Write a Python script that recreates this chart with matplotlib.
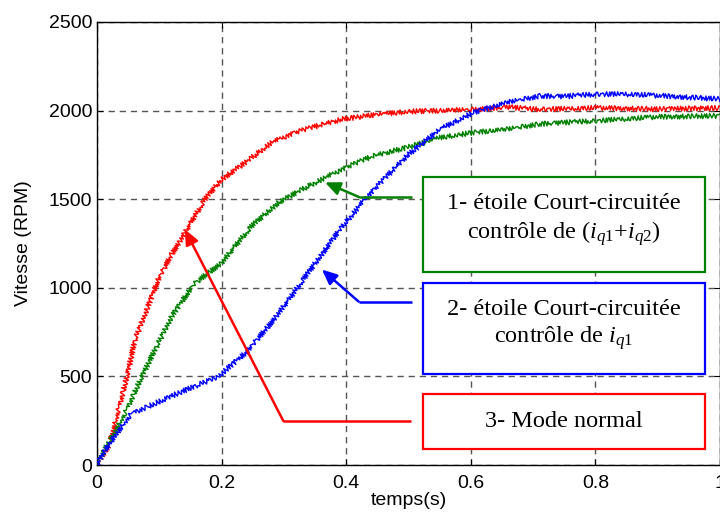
import matplotlib
matplotlib.use("Agg")
import matplotlib.pyplot as plt
from matplotlib.patches import Rectangle

# ---- data ----
t_red = [0, 0.008, 0.018, 0.029, 0.048, 0.061, 0.082, 0.098, 0.12, 0.141, 0.173, 0.2, 0.238,
         0.28, 0.318, 0.36, 0.393, 0.45, 0.5, 0.55, 0.6, 0.66, 0.7, 0.75, 0.8, 0.85, 0.9, 0.95, 1.0]
v_red = [0, 50, 104, 236, 500, 707, 895, 1046, 1190, 1310, 1499, 1612, 1706,
         1820, 1876, 1920, 1951, 1978, 1995, 2000, 2005, 2020, 2008, 2010, 2016, 2012, 2008, 2012, 2015]

t_green = [0, 0.012, 0.024, 0.045, 0.072, 0.093, 0.12, 0.155, 0.2, 0.248, 0.291, 0.339, 0.393,
           0.443, 0.497, 0.551, 0.604, 0.658, 0.711, 0.8, 0.9, 1.0]
v_green = [0, 90, 160, 292, 500, 650, 839, 1020, 1141, 1348, 1480, 1574, 1668,
           1744, 1791, 1848, 1876, 1895, 1925, 1942, 1965, 1970]

t_blue = [0, 0.01, 0.024, 0.04, 0.056, 0.082, 0.13, 0.195, 0.238, 0.275, 0.312, 0.323, 0.361,
          0.39, 0.43, 0.497, 0.551, 0.604, 0.658, 0.711, 0.75, 0.802, 0.855, 0.909, 0.95, 1.0]
v_blue = [0, 70, 141, 220, 292, 330, 405, 500, 632, 782, 952, 1008, 1190,
          1329, 1500, 1744, 1895, 1989, 2046, 2083, 2080, 2093, 2093, 2083, 2075, 2065]

x_ticks = [0, 0.2, 0.4, 0.6, 0.8, 1]
x_tick_labels = ["0", "0.2", "0.4", "0.6", "0.8", "1"]
y_ticks = [0, 500, 1000, 1500, 2000, 2500]

labels = ["1- étoile Court-circuitée\ncontrôle de $(i_{\\mathit{q1}}$+$i_{\\mathit{q2}})$",
          "2- étoile Court-circuitée\ncontrôle de $i_{\\mathit{q1}}$",
          "3- Mode normal"]

plt.rcParams['mathtext.fontset'] = 'custom'
plt.rcParams['mathtext.rm'] = 'Liberation Serif'
plt.rcParams['mathtext.it'] = 'Liberation Serif:italic'

fig = plt.figure(figsize=(7.2, 5.22), dpi=100)
ax = fig.add_axes([97/720, 1-465/522, 623/720, 443/522])

sk = (2.5, 3.0, 2.0)
for t, v, c in [(t_red, v_red, '#ff0000'), (t_green, v_green, '#008000'), (t_blue, v_blue, '#0000ff')]:
    ln, = ax.plot(t, v, color=c, lw=1.0, zorder=3)
    ln.set_sketch_params(*sk)

ax.set_xlim(0, 1)
ax.set_ylim(0, 2500)
ax.set_xticks(x_ticks)
ax.set_xticklabels(x_tick_labels)
ax.set_yticks(y_ticks)
ax.grid(True, color='#555555', linestyle=(0, (4.5, 3.5)), lw=1.0)
ax.set_axisbelow(True)
ax.tick_params(direction='in', top=True, right=True, length=4, labelsize=14)
ax.tick_params(axis='x', pad=7)
for lab in ax.get_xticklabels() + ax.get_yticklabels():
    lab.set_family('Liberation Sans')
for s in ax.spines.values():
    s.set_linewidth(1.0)
ax.set_xlabel('temps(s)', fontsize=14, family='Liberation Sans', labelpad=0)
ax.set_ylabel('Vitesse (RPM)', fontsize=14, family='Liberation Sans', labelpad=12)

# annotation boxes (figure pixel placement)
boxes = [(177, 272, '#008000', -4), (283, 374, '#0000ff', -3), (394, 449, '#ff0000', 0)]
for (top, bot, c, dy), txt in zip(boxes, labels):
    r = Rectangle((423/720, 1-bot/522), 282/720, (bot-top)/522, transform=fig.transFigure,
                  facecolor='white', edgecolor=c, lw=1.6, zorder=5)
    fig.add_artist(r)
    fig.text(564/720, 1-((top+bot)/2 + dy)/522, txt, ha='center', va='center', fontsize=17.5,
             family='Liberation Serif', linespacing=1.25, zorder=6)

# leader arrows (data coordinates)
arrows = [((0.366, 1595), (0.422, 1510), (0.506, 1510), '#008000'),
          ((0.361, 1103), (0.420, 922), (0.506, 922), '#0000ff'),
          ((0.141, 1329), (0.299, 249), (0.504, 249), '#ff0000')]
for tip, elbow, end, c in arrows:
    ax.plot([end[0], elbow[0]], [end[1], elbow[1]], color=c, lw=1.8, zorder=4, solid_capstyle='butt')
    ax.annotate('', xy=tip, xytext=elbow,
                arrowprops=dict(arrowstyle='-|>,head_length=0.9,head_width=0.4', color=c, lw=1.8,
                                shrinkA=0, shrinkB=0), zorder=4)

fig.savefig('out.png', dpi=100)
